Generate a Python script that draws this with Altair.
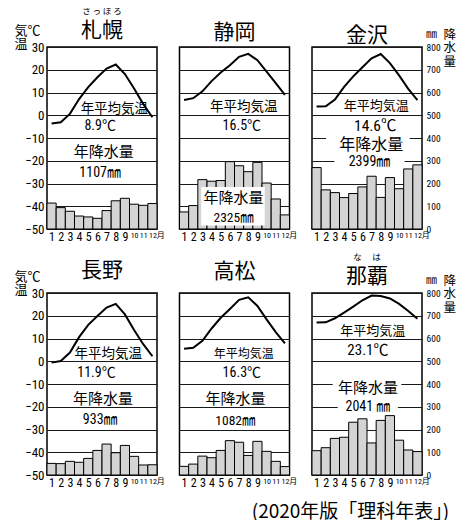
import altair as alt
import pandas as pd

# ---------------- data ----------------
stations = ["札幌", "静岡", "金沢", "長野", "高松", "那覇"]
readings = ["さ っ ぽ ろ", " ", " ", " ", " ", "な　 は"]
months = list(range(1, 13))

temp_sapporo = [-3.6, -3.1, 0.6, 7.1, 12.4, 16.7, 20.5, 22.3, 18.1, 11.8, 4.9, -0.9]
prec_sapporo = [114, 94, 78, 57, 53, 47, 81, 124, 135, 109, 104, 112]
temp_shizuoka = [6.7, 7.5, 10.5, 15.0, 18.8, 22.0, 25.7, 27.0, 24.2, 19.2, 14.1, 9.0]
prec_shizuoka = [75, 103, 217, 210, 213, 296, 278, 252, 293, 202, 132, 62]
temp_kanazawa = [3.8, 3.9, 6.9, 12.5, 17.1, 21.1, 25.0, 26.9, 22.9, 17.5, 11.6, 6.6]
prec_kanazawa = [270, 172, 160, 138, 156, 185, 232, 139, 226, 177, 264, 282]
temp_nagano = [-0.6, 0.1, 3.8, 10.6, 16.0, 19.9, 23.6, 25.2, 20.6, 13.7, 7.5, 2.2]
prec_nagano = [51, 50, 60, 56, 73, 108, 136, 98, 130, 82, 44, 45]
temp_takamatsu = [5.5, 5.9, 9.0, 14.4, 19.1, 23.0, 27.0, 28.1, 24.3, 18.4, 12.8, 7.9]
prec_takamatsu = [38, 48, 83, 76, 108, 151, 144, 86, 148, 104, 60, 37]
temp_naha = [17.0, 17.1, 18.9, 21.4, 24.0, 26.8, 28.9, 28.7, 27.6, 25.2, 22.1, 18.7]
prec_naha = [107, 120, 161, 166, 232, 247, 141, 240, 261, 153, 110, 103]

temps = [temp_sapporo, temp_shizuoka, temp_kanazawa, temp_nagano, temp_takamatsu, temp_naha]
precs = [prec_sapporo, prec_shizuoka, prec_kanazawa, prec_nagano, prec_takamatsu, prec_naha]

mean_temp = ["8.9℃", "16.5℃", "14.6℃", "11.9℃", "16.3℃", "23.1℃"]
annual_prec = ["1107㎜", "2325㎜", "2399㎜", "933㎜", "1082㎜", "2041 ㎜"]
label_temp = "年平均気温"
label_prec = "年降水量"
source = "(2020年版「理科年表」)"

# ---------------- layout of annotations (month, °C, font size) ----------------
LABEL_POS = [
    [(7.85, 2.9, 13.5), (6.3, -4.9, 14), (6.7, -16.3, 15), (6.3, -25.4, 14)],
    [(7.5, 3.6, 13.5), (7.3, -4.6, 14), (6.4, -36.4, 15), (6.4, -45.2, 13.5)],
    [(7.5, 4.2, 13), (7.4, -4.6, 15.5), (6.96, -13.2, 16), (6.77, -20.5, 14)],
    [(7.19, 3.0, 13.5), (5.9, -5.0, 14), (6.6, -16.4, 15), (6.3, -26.0, 14)],
    [(7.5, 3.3, 12), (7.3, -5.0, 14), (6.6, -16.4, 15), (6.6, -26.3, 13.5)],
    [(7.14, 13.2, 13), (6.6, 4.8, 15), (6.6, -11.6, 15), (6.6, -20.1, 14)],
]
BOXES = [
    [],
    [(2.87, 9.8, -48.5, -31.5)],
    [(2.03, 11.15, -16.6, -8.5), (2.94, 10.6, -22.5, -18.1)],
    [],
    [],
    [(2.76, 10.24, -15.5, -8.0), (3.31, 9.87, -22.5, -18.0)],
]
TITLE_OFFSET = [-17, 4, -17.5, -10.5, 11, -13]

W, H = 110, 182
NUM = "Roboto Condensed, Liberation Sans Narrow, Roboto, Noto Sans CJK JP"
CJK = "Noto Sans CJK JP"


def panel(i):
    col, row = i % 3, i // 3
    df = pd.DataFrame({"m": months, "t": temps[i], "p": precs[i]})
    xs = alt.Scale(domain=[0.5, 12.5], nice=False, zero=False)
    xax = alt.Axis(
        values=months,
        labelExpr="datum.value == 12 ? '12月' : '' + datum.value",
        labelFont=NUM,
        labelFontSize={"condition": {"test": "datum.value >= 10", "value": 8}, "value": 12},
        labelOffset={"condition": {"test": "datum.value == 12", "value": 4}, "value": 0},
        labelPadding=2, ticks=False, domain=False, grid=False,
        labelOverlap=False, labelColor="black", title=None,
    )
    ts = alt.Scale(domain=[-50, 30], nice=False, zero=False)
    tkw = dict(values=list(range(-50, 31, 10)), grid=True, gridColor="#1a1a1a", gridWidth=1,
               ticks=False, domain=False, labelFont=NUM, labelFontSize=13, labelPadding=3,
               labelColor="black", orient="left")
    if col == 0:
        tkw.update(title=["気℃", "温"], titleAngle=0, titleAlign="left", titleBaseline="top",
                   titleX=-33, titleY=-23, titleFont=CJK, titleFontSize=13,
                   titleFontWeight="normal", titleLineHeight=13, titleColor="black")
    else:
        tkw.update(labels=False, title=None, minExtent=0)
    tax = alt.Axis(**tkw)

    ps = alt.Scale(domain=[0, 800], nice=False, zero=True)
    if col == 2:
        pax = alt.Axis(orient="right", values=list(range(0, 801, 100)), grid=False, ticks=False,
                       domain=False, labelFont=NUM, labelFontSize=9.5, labelPadding=4,
                       labelColor="black", title=["降", "水", "量"], titleAngle=0,
                       titleAlign="left", titleBaseline="top", titleX=21, titleY=-19,
                       titleFont=CJK, titleFontSize=12.5, titleFontWeight="normal",
                       titleLineHeight=13.5, titleColor="black")
    else:
        pax = None

    bars = alt.Chart(df).transform_calculate(
        m0="datum.m - 0.5", m1="datum.m + 0.5"
    ).mark_rect(fill="#d4d4d4", stroke="black", strokeWidth=1).encode(
        x=alt.X("m0:Q", scale=xs, axis=xax),
        x2="m1:Q",
        y=alt.Y("p:Q", scale=ps, axis=pax),
        y2=alt.datum(0),
    )

    layers = []
    if BOXES[i]:
        bdf = pd.DataFrame(BOXES[i], columns=["x1", "x2", "y1", "y2"])
        layers.append(alt.Chart(bdf).mark_rect(fill="white").encode(
            x=alt.X("x1:Q", scale=xs, axis=xax), x2="x2:Q",
            y=alt.Y("y1:Q", scale=ts, axis=tax), y2="y2:Q"))
    layers.append(alt.Chart(df).mark_line(color="black", strokeWidth=2).encode(
        x=alt.X("m:Q", scale=xs, axis=xax),
        y=alt.Y("t:Q", scale=ts, axis=tax)))
    texts = [label_temp, mean_temp[i], label_prec, annual_prec[i]]
    tdf = pd.DataFrame([
        {"text": s, "x": p[0], "y": p[1], "fs": p[2]} for s, p in zip(texts, LABEL_POS[i])
    ])
    layers.append(alt.Chart(tdf).mark_text(font=NUM, color="black", baseline="middle",
                                           align="center").encode(
        x=alt.X("x:Q", scale=xs, axis=xax),
        y=alt.Y("y:Q", scale=ts, axis=tax),
        text="text:N",
        size=alt.Size("fs:Q", scale=None, legend=None)))
    if col == 2:
        layers.append(alt.Chart(pd.DataFrame({"a": [0]})).mark_text(
            text="㎜", font=CJK, fontSize=11, color="black", align="left", baseline="middle"
        ).encode(x=alt.value(W + 4), y=alt.value(-12)))
    inner = alt.layer(*layers)

    title = alt.TitleParams(
        text=readings[i], subtitle=stations[i], font=CJK, fontSize=8.5, fontWeight="normal",
        subtitleFont=CJK, subtitleFontSize=21, subtitlePadding=5, color="black",
        subtitleColor="black", anchor="middle", offset=TITLE_OFFSET[i],
    )
    return alt.layer(bars, inner).resolve_scale(y="independent").properties(
        width=W, height=H, title=title)


chart = alt.concat(*[panel(i) for i in range(6)], columns=3,
                   spacing={"row": 64, "column": 22.5}, bounds="flush").properties(
    title=alt.TitleParams(source, orient="bottom", anchor="end", font=CJK, fontSize=19,
                          fontWeight="normal", color="black", offset=14, dx=-7),
    padding={"left": 5, "top": -3, "right": 5, "bottom": 0},
).configure_view(stroke="black", strokeWidth=1.5)

chart.save("out.html", embed_options={"renderer": "svg", "actions": False})
